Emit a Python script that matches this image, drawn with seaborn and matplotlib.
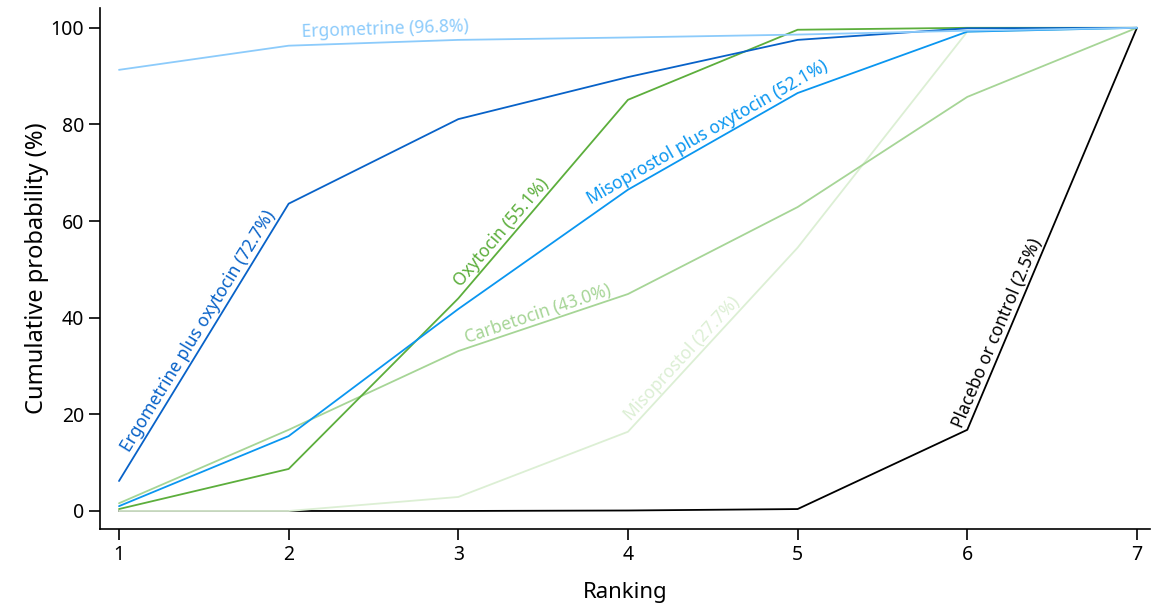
import numpy as np
import pandas as pd
import matplotlib
matplotlib.use("Agg")
import matplotlib.pyplot as plt
import seaborn as sns

# Cumulative ranking probabilities (%) for each treatment, ranks 1..7
ranks = [1, 2, 3, 4, 5, 6, 7]
placebo = [0.0, 0.0, 0.0, 0.1, 0.4, 16.8, 100.0]
misoprostol = [0.0, 0.0, 2.9, 16.4, 54.5, 99.2, 100.0]
carbetocin = [1.6, 16.8, 33.1, 44.9, 62.9, 85.7, 100.0]
oxytocin = [0.4, 8.7, 44.0, 85.1, 99.6, 100.0, 100.0]
miso_oxy = [1.0, 15.5, 41.8, 66.5, 86.5, 99.2, 100.0]
ergo_oxy = [6.2, 63.6, 81.1, 89.8, 97.5, 99.9, 100.0]
ergometrine = [91.3, 96.3, 97.5, 98.0, 98.6, 99.4, 100.0]

treatments = ["Placebo or control", "Misoprostol", "Carbetocin", "Oxytocin",
              "Misoprostol plus oxytocin", "Ergometrine plus oxytocin", "Ergometrine"]
sucra = [2.5, 27.7, 43.0, 55.1, 52.1, 72.7, 96.8]
series = [placebo, misoprostol, carbetocin, oxytocin, miso_oxy, ergo_oxy, ergometrine]
colors = ["#000000", "#dcefd4", "#a6d596", "#5cae3c", "#0a96f0", "#0862c8", "#8ccbfb"]

# label placement: segment start rank, fraction along segment, offset (px)
label_seg = [6, 4, 3, 3, 4, 1, 2]
label_t = [0.23, 0.36, 0.49, 0.30, 0.50, 0.52, 0.57]
label_d = [10, 10, 10, 10, 10, 10, 13]

df = pd.DataFrame({
    "Ranking": np.tile(ranks, len(treatments)),
    "Probability": np.concatenate(series),
    "Treatment": np.repeat(treatments, len(ranks)),
})

sns.set_theme(style="ticks")
plt.rcParams["font.family"] = ["Noto Sans", "DejaVu Sans"]

fig = plt.figure(figsize=(11.52, 6.04), dpi=100)
ax = fig.add_axes([100 / 1152, 75 / 604, 1050 / 1152, 521 / 604])

sns.lineplot(data=df, x="Ranking", y="Probability", hue="Treatment",
             hue_order=treatments, palette=colors, linewidth=1.3,
             legend=False, ax=ax)

ax.set_xlim(0.888, 7.077)
ax.set_ylim(-3.73, 104.1)
ax.set_xticks(ranks)
ax.set_yticks([0, 20, 40, 60, 80, 100])
ax.set_xlabel("Ranking", fontsize=16, labelpad=12, color="black")
ax.set_ylabel("Cumulative probability (%)", fontsize=17, labelpad=1, color="black")
ax.tick_params(axis="both", labelsize=14, length=8, width=1.2, direction="out",
               color="black", labelcolor="black")
for side in ["top", "right"]:
    ax.spines[side].set_visible(False)
for side in ["left", "bottom"]:
    ax.spines[side].set_linewidth(1.2)
    ax.spines[side].set_color("black")

# in-line labels rotated along each curve
for name, val, ys, col, seg, t, d in zip(treatments, sucra, series, colors,
                                         label_seg, label_t, label_d):
    i = seg - 1
    x0, y0 = ranks[i], ys[i]
    x1, y1 = ranks[i + 1], ys[i + 1]
    p0 = ax.transData.transform((x0, y0))
    p1 = ax.transData.transform((x1, y1))
    ang = np.arctan2(p1[1] - p0[1], p1[0] - p0[0])
    xm = x0 + t * (x1 - x0)
    ym = y0 + t * (y1 - y0)
    off = np.array([-np.sin(ang), np.cos(ang)]) * d * 0.72
    ax.annotate(f"{name} ({val:.1f}%)", xy=(xm, ym), xytext=tuple(off),
                textcoords="offset points", rotation=np.degrees(ang),
                rotation_mode="anchor", ha="center", va="center",
                fontsize=12.5, color=col)

fig.savefig("out.png", dpi=100)
